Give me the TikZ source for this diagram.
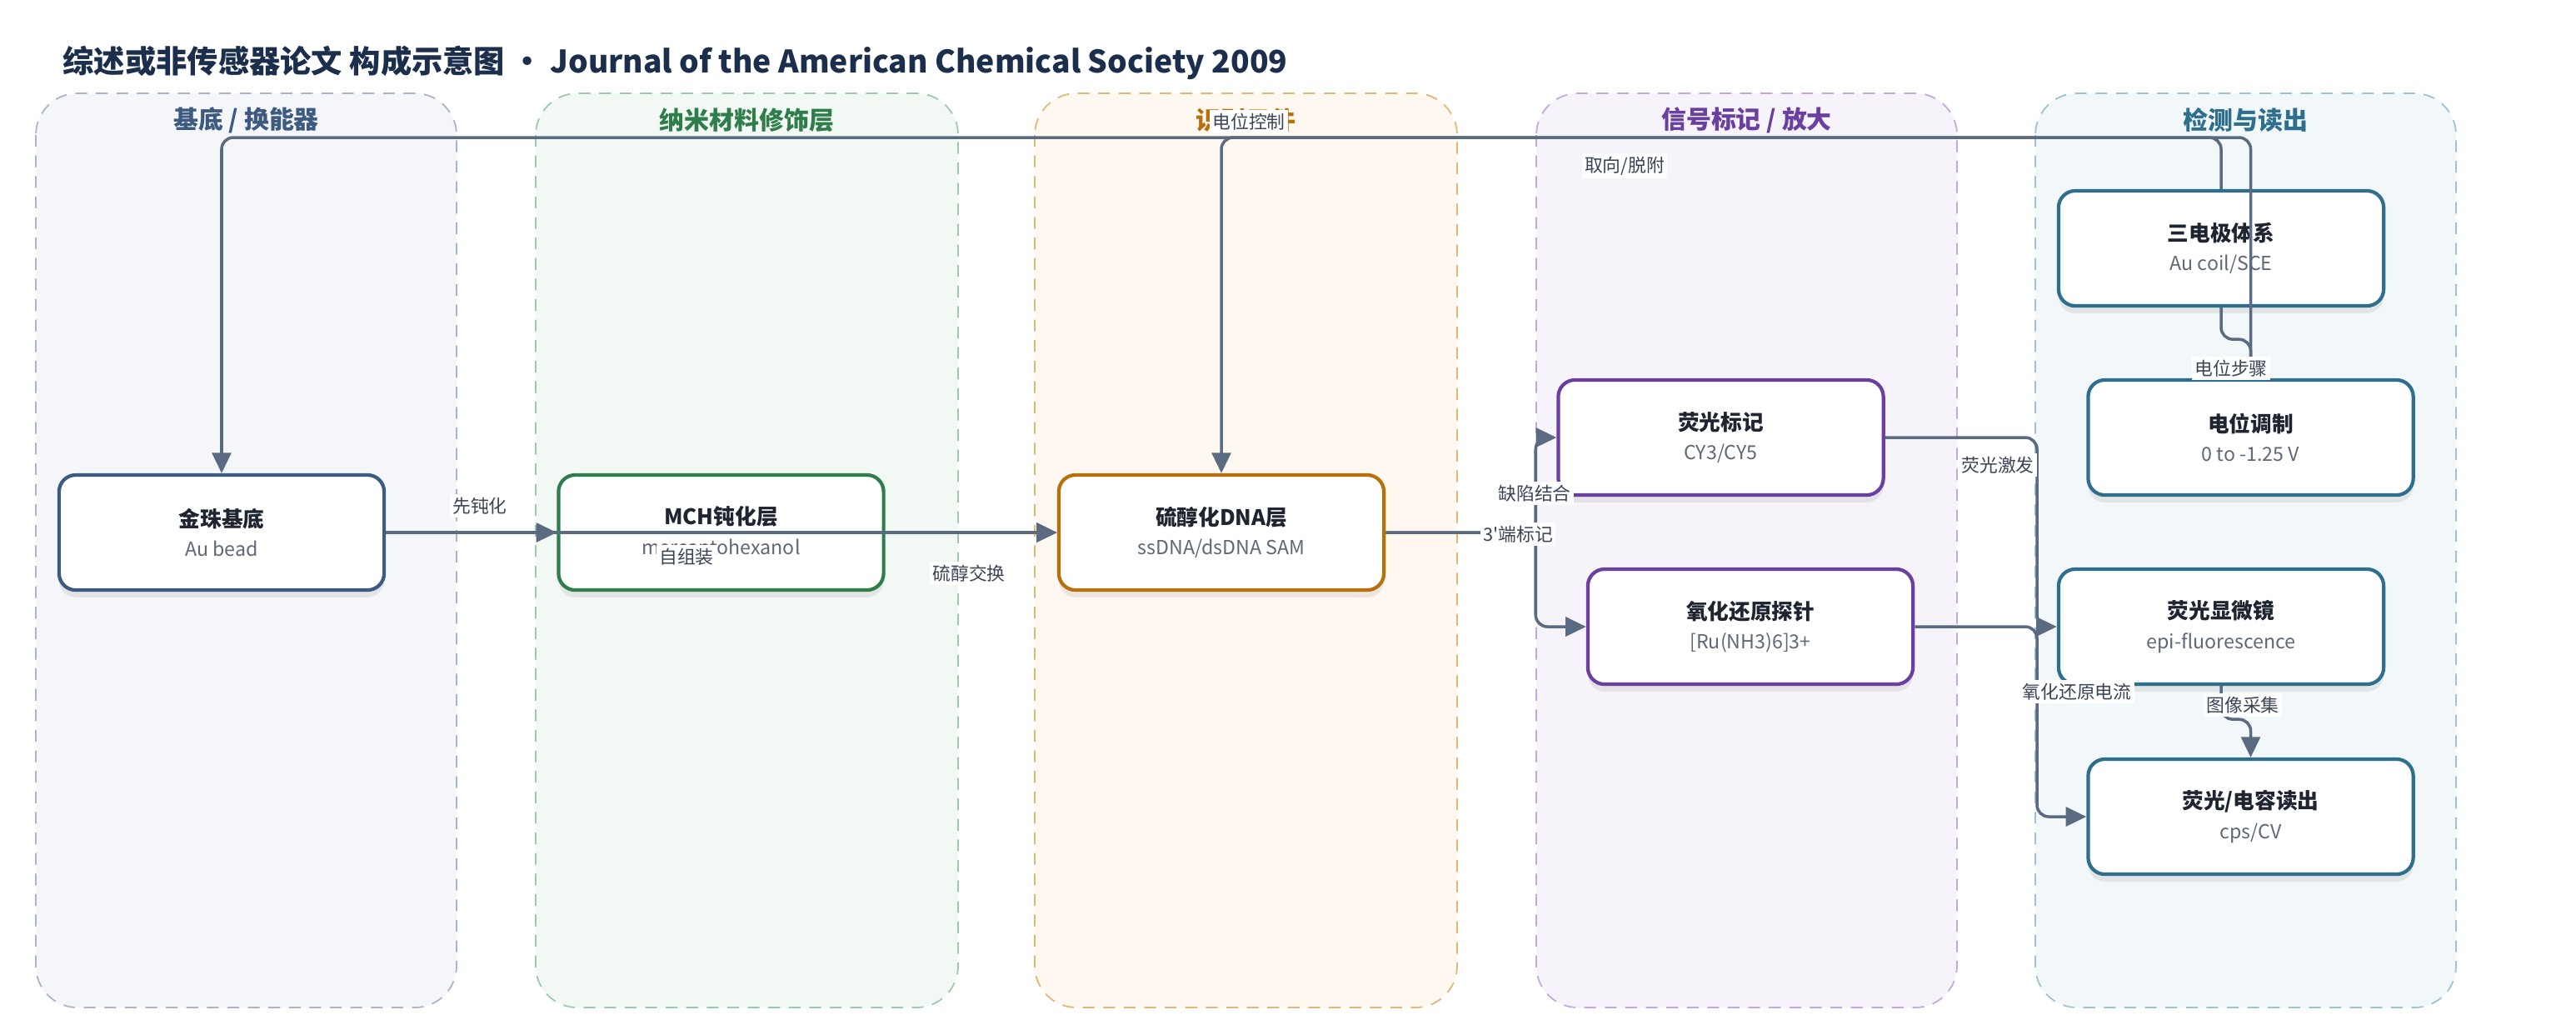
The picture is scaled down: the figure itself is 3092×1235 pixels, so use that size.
\documentclass[tikz,border=0pt]{standalone}
\usepackage{fontspec}
\setmainfont{Noto Sans CJK SC}
\usetikzlibrary{arrows.meta,shadows,positioning}

\definecolor{titlec}{HTML}{1B2E4B}
\definecolor{namec}{HTML}{1E2530}
\definecolor{subc}{HTML}{5F6877}
\definecolor{edgec}{HTML}{5A6A80}
\definecolor{labelc}{HTML}{3A4555}
% group colours: line, fill, title
\definecolor{baseL}{HTML}{A9B4C8}\definecolor{baseF}{HTML}{F4F6FA}\definecolor{baseT}{HTML}{3D5A80}
\definecolor{nanoL}{HTML}{9CC9AC}\definecolor{nanoF}{HTML}{F2F8F4}\definecolor{nanoT}{HTML}{2E7D4A}
\definecolor{recoL}{HTML}{E3B678}\definecolor{recoF}{HTML}{FEF8F0}\definecolor{recoT}{HTML}{B8700A}
\definecolor{signL}{HTML}{C2A8DE}\definecolor{signF}{HTML}{F6F3FA}\definecolor{signT}{HTML}{6A3FA0}
\definecolor{detL}{HTML}{9CC3D3}\definecolor{detF}{HTML}{F2F7F9}\definecolor{detT}{HTML}{2E6F8E}

\newcommand{\boxtext}[2]{{\fontsize{7.3}{9}\selectfont\bfseries\color{namec}#1}\\[-2pt]{\fontsize{6.6}{8}\selectfont\color{subc}#2}}

\tikzset{
  stage/.style 2 args={draw=#1, fill=#2, rounded corners=0.5cm, line width=0.5pt, dash pattern=on 4pt off 3pt},
  stagetitle/.style={font=\fontsize{8.5}{10}\selectfont\bfseries, text=#1},
  box/.style={draw=#1, fill=white, rounded corners=0.2cm, line width=1.2pt,
    minimum width=3.9cm, minimum height=1.38cm, align=center,
    drop shadow={opacity=0.15, shadow xshift=0pt, shadow yshift=-2.5pt}},
  edge/.style={draw=edgec, line width=1pt, rounded corners=4pt, -{Triangle[length=7pt,width=6.5pt]}},
  elabel/.style={fill=white, inner sep=1pt, text=labelc, font=\fontsize{6.2}{7}\selectfont}
}

\begin{document}
\begin{tikzpicture}[x=0.01cm, y=-0.01cm]
\useasboundingbox (0,0) rectangle (3092,1235);
\fill[white] (0,0) rectangle (3092,1235);

\node[anchor=west, inner sep=0pt, text=titlec, font=\fontsize{10.6}{13}\selectfont\bfseries] (title) at (75,75)
  {综述或非传感器论文 构成示意图 • Journal of the American Chemical Society 2009};

% stages
\draw[stage={baseL}{baseF}] (43,112) rectangle (548,1209);
\draw[stage={nanoL}{nanoF}] (643,112) rectangle (1150,1209);
\draw[stage={recoL}{recoF}] (1242,112) rectangle (1749,1209);
\draw[stage={signL}{signF}] (1844,112) rectangle (2349,1209);
\draw[stage={detL}{detF}] (2443,112) rectangle (2948,1209);

\node[stagetitle=baseT] (tbase) at (295.5,144) {基底 / 换能器};
\node[stagetitle=nanoT] (tnano) at (896.5,144) {纳米材料修饰层};
\node[stagetitle=recoT] (treco) at (1495.5,144) {识别元件};
\node[stagetitle=signT] (tsign) at (2096.5,144) {信号标记 / 放大};
\node[stagetitle=detT] (tdet) at (2695.5,144) {检测与读出};

% boxes
\node[box=baseT] (gold) at (266,639) {\boxtext{金珠基底}{Au bead}};
\node[box=nanoT] (mch) at (865.5,639) {\boxtext{MCH钝化层}{mercaptohexanol}};
\node[box=recoT] (dna) at (1466,639) {\boxtext{硫醇化DNA层}{ssDNA/dsDNA SAM}};
\node[box=signT] (fluor) at (2065.5,525) {\boxtext{荧光标记}{CY3/CY5}};
\node[box=signT] (redox) at (2101,752) {\boxtext{氧化还原探针}{[Ru(NH3)6]3+}};
\node[box=detT] (elec) at (2666,298) {\boxtext{三电极体系}{Au coil/SCE}};
\node[box=detT] (pot) at (2701.5,525) {\boxtext{电位调制}{0 to -1.25 V}};
\node[box=detT] (scope) at (2666,752) {\boxtext{荧光显微镜}{epi-fluorescence}};
\node[box=detT] (read) at (2701.5,980) {\boxtext{荧光/电容读出}{cps/CV}};

\coordinate (busT) at (0,165);
\coordinate (busR) at (2445,0);

% connectors
\draw[edge] (gold.east) -- (mch.west);
\draw[edge] (gold.east) -- (dna.west);
\draw[edge] (mch.east) -- (dna.west);
\draw[edge] (dna.east) -- ++(180,0) |- (fluor.west);
\draw[edge] (dna.east) -- ++(180,0) |- (redox.west);
\draw[edge] (fluor.east) -- (fluor.east -| busR) |- (scope.west);
\draw[edge] (redox.east) -- (redox.east -| busR) |- (read.west);
\draw[edge] (scope.south) -- ++(0,40) -| (read.north);
\draw[edge,-] (elec.south) -- ++(0,38) -| (pot.north);
\draw[edge] (elec.north) -- (elec.north |- busT) -- (gold.north |- busT) -- (gold.north);
\draw[edge] (pot.north) -- (pot.north |- busT) -- (dna.north |- busT) -- (dna.north);

% connector labels
\node[elabel] (l1) at (576,607) {先钝化};
\node[elabel] (l2) at (824,668) {自组装};
\node[elabel] (l3) at (1163,688) {硫醇交换};
\node[elabel] (l4) at (1842,592) {缺陷结合};
\node[elabel] (l5) at (1822,641) {3\textquotesingle 端标记};
\node[elabel] (l6) at (2398,558) {荧光激发};
\node[elabel] (l7) at (2493,830) {氧化还原电流};
\node[elabel] (l8) at (2692,846) {图像采集};
\node[elabel] (l9) at (2678,442) {电位步骤};
\node[elabel] (l10) at (1499,146) {电位控制};
\node[elabel] (l11) at (1950,199) {取向/脱附};
\end{tikzpicture}
\end{document}
